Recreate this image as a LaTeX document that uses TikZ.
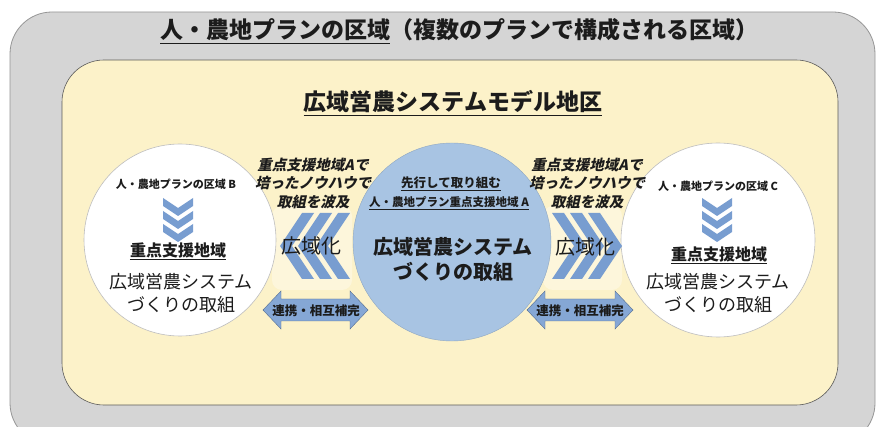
\documentclass[tikz,border=0pt]{standalone}
\usepackage{fontspec}
\newfontfamily\jp{Noto Sans CJK JP}
\newfontfamily\jpit[FakeSlant=0.22]{Noto Sans CJK JP}
\newcommand\fsz[1]{\fontsize{#1}{#1}\selectfont}
\definecolor{outergray}{RGB}{213,213,213}
\definecolor{outerline}{RGB}{150,150,150}
\definecolor{cream}{RGB}{252,242,201}
\definecolor{creamline}{RGB}{90,90,90}
\definecolor{lightblue}{RGB}{168,196,227}
\definecolor{chev}{RGB}{120,157,208}
\definecolor{ink}{RGB}{28,28,28}
\definecolor{circleline}{RGB}{190,190,190}
\tikzset{
  txt/.style={inner sep=0pt, text=ink, font=\jp},
  ulined/.style={txt},
  wcircle/.style={circle, fill=white, draw=circleline, line width=0.6pt},
  bcircle/.style={circle, fill=lightblue, draw=lightblue!85!black, line width=0.4pt},
  chevfill/.style={fill=chev},
  arrowfill/.style={fill=chev!90!white, draw=chev!70!black, line width=0.4pt},
  uline/.style={draw=ink, line width=0.9pt}
}
\begin{document}
\begin{tikzpicture}[x=1pt,y=-1pt]
\useasboundingbox (0,0) rectangle (880,427);
\clip (0,0) rectangle (880,427);
\fill[white] (0,0) rectangle (880,427);
% outer gray panel
\draw[outerline, fill=outergray, line width=0.8pt, rounded corners=42pt] (10,12) rectangle (875,445);
% inner cream panel
\draw[creamline, fill=cream, line width=0.6pt, rounded corners=42pt] (62,60) rectangle (838,405);

% titles
\node[txt, anchor=west, font=\jp\bfseries\fsz{23}] (t1) at (160,30) {人・農地プランの区域};
\node[txt, anchor=west, font=\jp\bfseries\fsz{23}] (t2) at (t1.east) {（複数のプランで構成される区域）};
\draw[uline] ([yshift=-2pt]t1.south west) -- ([yshift=-2pt]t1.south east);
\node[txt, font=\jp\bfseries\fsz{23}] (st) at (453,102) {広域営農システムモデル地区};
\draw[uline] ([yshift=-2pt]st.south west) -- ([yshift=-2pt]st.south east);

% pale bands behind the big chevrons
\fill[white, opacity=0.35, rounded corners=10pt] (272,206) rectangle (352,290);
\fill[white, opacity=0.35, rounded corners=10pt] (543,206) rectangle (622,290);

% circles
\node[wcircle, minimum size=192pt] (cl) at (180,240) {};
\node[wcircle, minimum size=194pt] (cr) at (718,240) {};
\node[bcircle, minimum size=198pt] (cm) at (452,242) {};

% big chevrons left (pointing left)
\foreach \xt in {280,298,316}{
  \fill[chevfill] (\xt,246) -- (\xt+22,213) -- (\xt+34,213) -- (\xt+12,246) -- (\xt+34,279) -- (\xt+22,279) -- cycle;
}
% big chevrons right (pointing right)
\foreach \xe in {552,570,588}{
  \fill[chevfill] (\xe,213) -- (\xe+12,213) -- (\xe+34,246) -- (\xe+12,279) -- (\xe,279) -- (\xe+22,246) -- cycle;
}

% small chevrons in white circles
\foreach \cx in {178,717}{
  \foreach \y in {198,211,224}{
    \fill[chevfill] (\cx-15,\y) -- (\cx,\y+10) -- (\cx+15,\y) -- (\cx+15,\y+8) -- (\cx,\y+18) -- (\cx-15,\y+8) -- cycle;
  }
}

% double arrows
\foreach \L/\R in {263/368, 527/633}{
  \filldraw[arrowfill] (\L,310) -- (\L+18,291) -- (\L+18,299) -- (\R-18,299) -- (\R-18,291) -- (\R,310)
     -- (\R-18,329) -- (\R-18,321) -- (\L+18,321) -- (\L+18,329) -- cycle;
}

% left circle texts
\node[txt, font=\jp\bfseries\fsz{11}] (lb1) at (176,184) {人・農地プランの区域 B};
\node[txt, font=\jp\bfseries\fsz{16}] (lb2) at (178,250) {重点支援地域};
\draw[uline] ([yshift=-2pt]lb2.south west) -- ([yshift=-2pt]lb2.south east);
\node[txt, font=\jp\fsz{18}] (lb3) at (181,282) {広域営農システム};
\node[txt, font=\jp\fsz{18}] (lb4) at (181,305) {づくりの取組};

% right circle texts
\node[txt, font=\jp\bfseries\fsz{11}] (rc1) at (718,186) {人・農地プランの区域 C};
\node[txt, font=\jp\bfseries\fsz{16}] (rc2) at (719,254) {重点支援地域};
\draw[uline] ([yshift=-2pt]rc2.south west) -- ([yshift=-2pt]rc2.south east);
\node[txt, font=\jp\fsz{18}] (rc3) at (718,282) {広域営農システム};
\node[txt, font=\jp\fsz{18}] (rc4) at (718,305) {づくりの取組};

% middle circle texts
\node[txt, font=\jp\bfseries\fsz{12.5}] (m1) at (451,183) {先行して取り組む};
\draw[uline, line width=0.7pt] ([yshift=-1.5pt]m1.south west) -- ([yshift=-1.5pt]m1.south east);
\node[txt, font=\jp\bfseries\fsz{11.5}] (m2) at (449,202) {人・農地プラン重点支援地域 A};
\draw[uline, line width=0.7pt] ([yshift=-1.5pt]m2.south west) -- ([yshift=-1.5pt]m2.south east);
\node[txt, font=\jp\bfseries\fsz{20}] (m3) at (453,247) {広域営農システム};
\node[txt, font=\jp\bfseries\fsz{20}] (m4) at (453,272) {づくりの取組};

% italic side texts
\node[txt, font=\jpit\bfseries\fontsize{14.5}{18.5}\selectfont, align=center] (li) at (313,183)
  {重点支援地域Aで\\培ったノウハウで\\取組を波及};
\node[txt, font=\jpit\bfseries\fontsize{14.5}{18.5}\selectfont, align=center] (ri) at (587,183)
  {重点支援地域Aで\\培ったノウハウで\\取組を波及};

% 広域化
\node[txt, font=\jp\fsz{20}] (lk) at (311,246) {広域化};
\node[txt, font=\jp\fsz{20}] (rk) at (585,247) {広域化};

% arrow labels
\node[txt, font=\jp\bfseries\fsz{12.5}] (la) at (316,311) {連携・相互補完};
\node[txt, font=\jp\bfseries\fsz{12.5}] (ra) at (580,311) {連携・相互補完};
\end{tikzpicture}
\end{document}
